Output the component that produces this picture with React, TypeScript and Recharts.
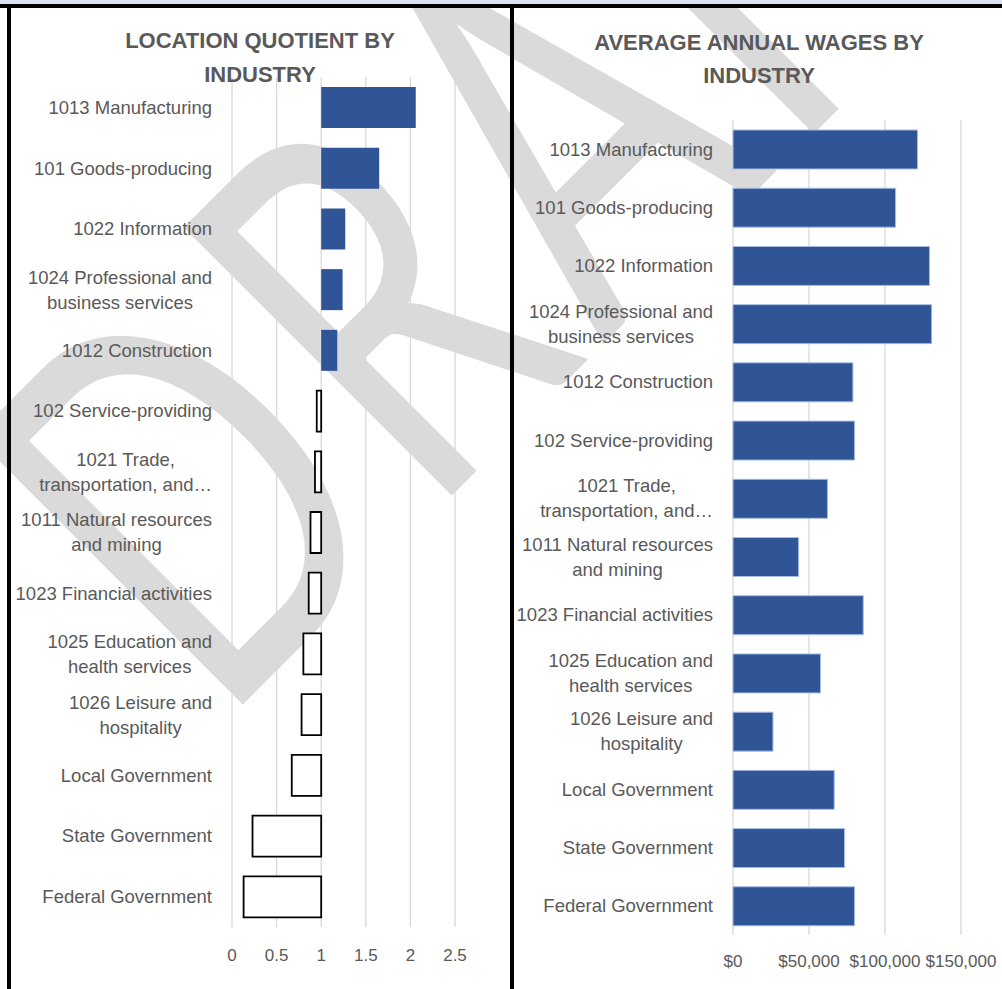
import React from "react";
import { BarChart, Bar, XAxis, YAxis, CartesianGrid, Cell } from "recharts";

// categories, same order in both charts (top to bottom)
const industries = [
  "1013 Manufacturing",
  "101 Goods-producing",
  "1022 Information",
  "1024 Professional and\nbusiness services",
  "1012 Construction",
  "102 Service-providing",
  "1021 Trade,\ntransportation, and…",
  "1011 Natural resources\nand mining",
  "1023 Financial activities",
  "1025 Education and\nhealth services",
  "1026 Leisure and\nhospitality",
  "Local Government",
  "State Government",
  "Federal Government",
];

const locationQuotient = [2.06, 1.65, 1.27, 1.24, 1.18, 0.95, 0.93, 0.88, 0.86, 0.8, 0.78, 0.67, 0.23, 0.13];
const annualWages = [121400, 107000, 129300, 130700, 78900, 80000, 62200, 43200, 85700, 57600, 26300, 66600, 73400, 80000];

const lqTicks = [0, 0.5, 1, 1.5, 2, 2.5];
const wageTicks = [0, 50000, 100000, 150000];
const lqBase = 1; // horizontal axis crosses at 1

const BLUE = "#2F5597";
const TEXT = "#595959";
const GRID = "#d9d9d9";
const FONT = "'Liberation Sans', Arial, sans-serif";
const LABEL_SIZE = 18.5;

const data = industries.map((name, i) => ({
  name,
  lq: locationQuotient[i],
  lqRange: [Math.min(lqBase, locationQuotient[i]), Math.max(lqBase, locationQuotient[i])],
  wage: annualWages[i],
}));

let ctx: CanvasRenderingContext2D | null = null;
function textWidth(s: string) {
  if (!ctx) ctx = document.createElement("canvas").getContext("2d");
  if (!ctx) return s.length * 9;
  ctx.font = `${LABEL_SIZE}px ${FONT}`;
  return ctx.measureText(s).width;
}

// wrapped category labels: block right aligned, lines centred inside it
function CategoryTick(props: any) {
  const { y, payload, right } = props;
  const lines = String(payload.value).split("\n");
  const w = Math.max(...lines.map(textWidth));
  const cx = right - w / 2;
  const lh = 25;
  const top = y - ((lines.length - 1) * lh) / 2 + 6.5;
  return (
    <g>
      {lines.map((l, i) => (
        <text key={i} x={cx} y={top + i * lh} textAnchor="middle" fontSize={LABEL_SIZE} fontFamily={FONT} fill={TEXT}>
          {l}
        </text>
      ))}
    </g>
  );
}

function ValueTick(props: any) {
  const { x, payload, baseline, fmt } = props;
  return (
    <text x={x} y={baseline} textAnchor="middle" fontSize={17} fontFamily={FONT} fill={TEXT}>
      {fmt(payload.value)}
    </text>
  );
}

function Title({ x, y, lines }: { x: number; y: number[]; lines: string[] }) {
  return (
    <>
      {lines.map((l, i) => (
        <text key={i} x={x} y={y[i]} textAnchor="middle" fontSize={22} fontWeight="bold" fontFamily={FONT} fill={TEXT}>
          {l}
        </text>
      ))}
    </>
  );
}

export default function App() {
  return (
    <div style={{ position: "absolute", left: 0, top: 0, width: 1002, height: 989, background: "#fff", overflow: "hidden" }}>
      {/* DRAFT watermark behind everything */}
      <svg width={1002} height={989} style={{ position: "absolute", left: 0, top: 0 }}>
        <text
          transform="rotate(-45) scale(1,1.45)"
          x={-360}
          y={462}
          fontFamily="Lato, 'Open Sans', sans-serif"
          fontWeight={400}
          fontSize={365}
          letterSpacing={18}
          fill="#dadada"
        >
          DRAFT
        </text>
      </svg>

      <div style={{ position: "absolute", left: 0, top: 0 }}>
        <BarChart width={500} height={989} data={data} layout="vertical" margin={{ top: 77, right: 45, bottom: 0, left: 0 }}>
          <CartesianGrid horizontal={false} stroke={GRID} strokeWidth={1.3} />
          <XAxis
            type="number"
            domain={[0, 2.5]}
            ticks={lqTicks}
            height={62}
            axisLine={false}
            tickLine={false}
            interval={0}
            tick={<ValueTick baseline={961} fmt={(v: number) => String(v)} />}
          />
          <YAxis
            type="category"
            dataKey="name"
            width={232}
            axisLine={false}
            tickLine={false}
            interval={0}
            tick={<CategoryTick right={212} />}
          />
          <Bar dataKey="lqRange" barSize={41} isAnimationActive={false}>
            {data.map((d, i) => (
              <Cell
                key={i}
                fill={d.lq >= lqBase ? BLUE : "#ffffff"}
                stroke={d.lq >= lqBase ? "none" : "#000000"}
                strokeWidth={d.lq >= lqBase ? 0 : 1.8}
              />
            ))}
          </Bar>
        </BarChart>
      </div>

      <div style={{ position: "absolute", left: 512, top: 0 }}>
        <BarChart width={490} height={989} data={data} layout="vertical" margin={{ top: 120, right: 41, bottom: 0, left: 0 }}>
          <CartesianGrid horizontal={false} stroke={GRID} strokeWidth={1.3} />
          <XAxis
            type="number"
            domain={[0, 150000]}
            ticks={wageTicks}
            height={54}
            axisLine={false}
            tickLine={false}
            interval={0}
            tick={<ValueTick baseline={967} fmt={(v: number) => "$" + v.toLocaleString("en-US")} />}
          />
          <YAxis
            type="category"
            dataKey="name"
            width={221}
            axisLine={false}
            tickLine={false}
            interval={0}
            tick={<CategoryTick right={201} />}
          />
          <Bar dataKey="wage" barSize={39} fill={BLUE} stroke="#a9bde3" strokeWidth={1} isAnimationActive={false} />
        </BarChart>
      </div>

      {/* frame and titles */}
      <svg width={1002} height={989} style={{ position: "absolute", left: 0, top: 0, pointerEvents: "none" }}>
        <rect x={0} y={0} width={1002} height={4} fill="#dae3f3" />
        <rect x={0} y={4} width={1002} height={4} fill="#000" />
        <rect x={7} y={4} width={4} height={985} fill="#000" />
        <rect x={510} y={4} width={4} height={985} fill="#000" />
        <Title x={260} y={[48, 82]} lines={["LOCATION QUOTIENT BY", "INDUSTRY"]} />
        <Title x={759} y={[50, 83]} lines={["AVERAGE ANNUAL WAGES BY", "INDUSTRY"]} />
      </svg>
    </div>
  );
}
